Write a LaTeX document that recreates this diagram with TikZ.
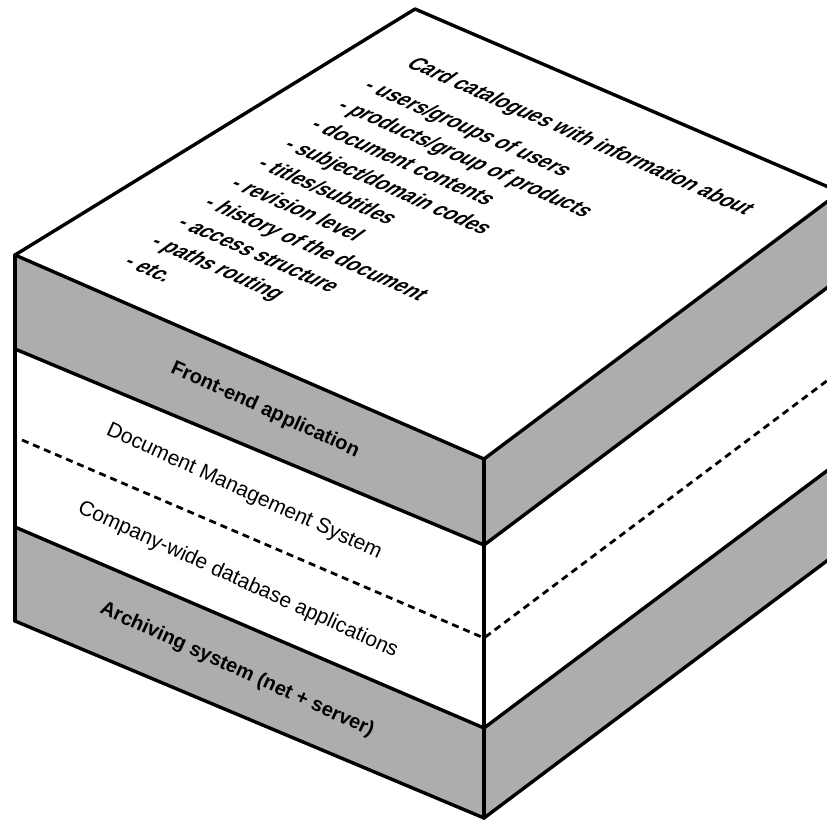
\documentclass[tikz,border=0pt]{standalone}
\usepackage{fontspec}
\setmainfont{Liberation Sans}
\newfontfamily\cardfont[FakeStretch=0.82]{Liberation Sans}

\begin{document}
\begin{tikzpicture}[x=1pt,y=-1pt,
  edge/.style={line width=3.4pt, line join=round, line cap=round},
  stipple/.style={fill=black!32},
  divider/.style={line width=2.8pt, dash pattern=on 7pt off 5pt},
  layertext/.style={font=\fontsize{21}{25}\selectfont, rotate=-24.5, inner sep=0pt},
  layerbold/.style={font=\bfseries\fontsize{20}{24}\selectfont, rotate=-24.5, inner sep=0pt},
  cardtext/.style={font=\cardfont\bfseries\fontsize{24}{30}\selectfont,
                   inner sep=0pt, anchor=base west, transform shape},
]
\useasboundingbox (0,0) rectangle (827,820);
\clip (0,0) rectangle (827,820);

% corners of the block
\coordinate (T)  at (415,9);
\coordinate (L)  at (15,255);
\coordinate (R)  at (840,192);
\coordinate (F)  at (484,459);
\coordinate (F1) at (484,545);
\coordinate (Fd) at (484,638);
\coordinate (F2) at (484,728);
\coordinate (F3) at (484,818);
\coordinate (L1) at (15,349);
\coordinate (Ld) at (22,440);
\coordinate (L2) at (15,527);
\coordinate (L3) at (15,621);
\coordinate (R1) at (840,278);
\coordinate (Rd) at (840,371);
\coordinate (R2) at (840,461);
\coordinate (R3) at (840,551);

% shaded layers
\fill[stipple] (L) -- (F) -- (F1) -- (L1) -- cycle;
\fill[stipple] (F) -- (R) -- (R1) -- (F1) -- cycle;
\fill[stipple] (L2) -- (F2) -- (F3) -- (L3) -- cycle;
\fill[stipple] (F2) -- (R2) -- (R3) -- (F3) -- cycle;

% boundary between the two software layers
\draw[divider] (Ld) -- (Fd) -- (Rd);

% outline
\draw[edge] (L) -- (T) -- (R);
\draw[edge] (L) -- (F) -- (R);
\draw[edge] (L1) -- (F1) -- (R1);
\draw[edge] (L2) -- (F2) -- (R2);
\draw[edge] (L3) -- (F3) -- (R3);
\draw[edge] (L) -- (L3);
\draw[edge] (F) -- (F3);

% labels on the side face
\node[layerbold] (frontend) at (265,410) {Front-end application};
\node[layertext] (dms)      at (244,492) {Document Management System};
\node[layertext] (cwd)      at (238,580) {Company-wide database applications};
\node[layerbold] (arch)     at (237,670) {Archiving system (net + server)};

% card catalogue text lying on the top face
\begin{scope}[shift={(405,66)}, cm={0.915,-0.403,0.807,0.591,(0,0)}]
  \node[cardtext] (head) at (0,0) {Card catalogues with information about};
  \foreach \t [count=\k] in {users/groups of users, products/group of products,
      document contents, subject/domain codes, titles/subtitles, revision level,
      history of the document, access structure, paths routing, etc.}
    \node[cardtext] (item\k) at (-8.5, 44+33*\k-33) {- \t};
\end{scope}
\end{tikzpicture}
\end{document}
